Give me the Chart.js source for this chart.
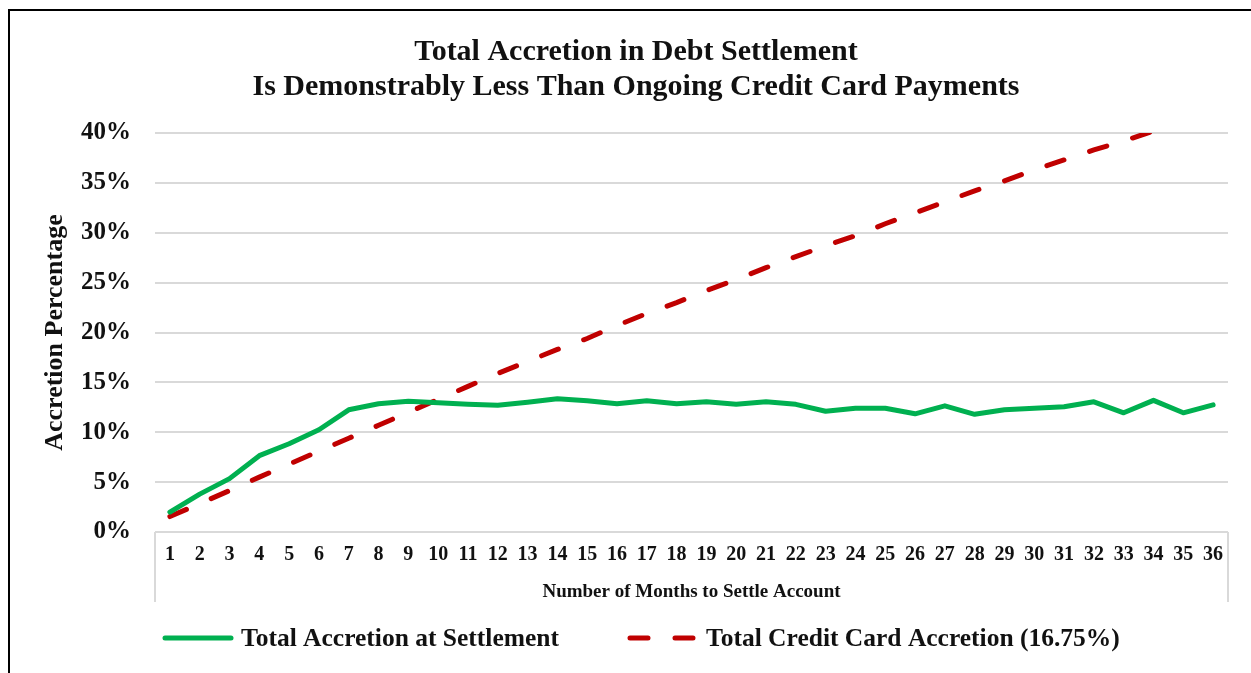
<!DOCTYPE html>
<html>
<head>
<meta charset="utf-8">
<title>Total Accretion in Debt Settlement</title>
<script src="https://cdn.jsdelivr.net/npm/chart.js@4.4.0/dist/chart.umd.min.js"></script>
<style>
  html, body { margin: 0; padding: 0; background: #fff; }
  #wrap { position: relative; width: 1251px; height: 673px; overflow: hidden; }
  #frame {
    position: absolute; left: 8px; top: 9px; width: 1300px; height: 700px;
    border-left: 2px solid #000; border-top: 2px solid #000;
    pointer-events: none;
  }
  canvas { position: absolute; left: 0; top: 0; }
</style>
</head>
<body>
<div id="wrap">
  <canvas id="chart" width="1251" height="673"></canvas>
  <div id="frame"></div>
</div>
<script>
// months to settle (x categories)
const months = ['1','2','3','4','5','6','7','8','9','10','11','12','13','14','15','16','17','18',
  '19','20','21','22','23','24','25','26','27','28','29','30','31','32','33','34','35','36'];

// % accretion
const settlementAccretion = [2.0, 3.8, 5.35, 7.65, 8.85, 10.25, 12.25, 12.85, 13.1, 12.95, 12.8, 12.7,
  13.0, 13.35, 13.15, 12.85, 13.15, 12.85, 13.05, 12.8, 13.05, 12.8, 12.1, 12.4,
  12.4, 11.85, 12.65, 11.8, 12.25, 12.4, 12.55, 13.05, 11.95, 13.2, 11.95, 12.75];

const creditCardAccretion = [1.55, 2.85, 4.15, 5.5, 6.8, 8.1, 9.4, 10.7, 12.0, 13.3, 14.6, 15.9,
  17.1, 18.3, 19.4, 20.7, 21.9, 23.0, 24.2, 25.3, 26.5, 27.6, 28.7, 29.7,
  30.9, 32.0, 33.1, 34.2, 35.2, 36.3, 37.3, 38.3, 39.2, 40.2, 41.1, 42.0];

const seriesNames = ['Total Accretion at Settlement', 'Total Credit Card Accretion (16.75%)'];
const titleLines = ['Total Accretion in Debt Settlement', 'Is Demonstrably Less Than Ongoing Credit Card Payments'];

const FONT = "'Liberation Serif', 'Times New Roman', serif";
const INK = '#111';
const GRID = '#d9d9d9';

// gray box around the category axis area (Excel style)
const axisBox = {
  id: 'axisBox',
  afterDraw(chart) {
    const { ctx, chartArea } = chart;
    const x = chart.scales.x;
    ctx.save();
    ctx.strokeStyle = GRID;
    ctx.lineWidth = 2;
    ctx.beginPath();
    ctx.moveTo(chartArea.left, chartArea.bottom);
    ctx.lineTo(chartArea.left, x.bottom - 3);
    ctx.moveTo(chartArea.right, chartArea.bottom);
    ctx.lineTo(chartArea.right, x.bottom - 3);
    ctx.stroke();
    ctx.restore();
  }
};

// legend drawn under the axis, line samples use the dataset styles
const lineLegend = {
  id: 'lineLegend',
  afterDraw(chart, args, opts) {
    const { ctx } = chart;
    ctx.save();
    ctx.font = 'bold ' + opts.size + 'px ' + FONT;
    ctx.textBaseline = 'middle';
    ctx.fillStyle = INK;
    chart.data.datasets.forEach((ds, i) => {
      const x0 = opts.starts[i];
      ctx.strokeStyle = ds.borderColor;
      ctx.lineWidth = ds.borderWidth;
      ctx.lineCap = 'round';
      ctx.setLineDash(ds.borderDash || []);
      ctx.beginPath();
      ctx.moveTo(x0, opts.y);
      ctx.lineTo(x0 + opts.sample, opts.y);
      ctx.stroke();
      ctx.setLineDash([]);
      ctx.fillText(ds.label, x0 + opts.sample + opts.gap, opts.y + 1);
    });
    ctx.restore();
  }
};

new Chart(document.getElementById('chart'), {
  type: 'line',
  data: {
    labels: months,
    datasets: [
      {
        label: seriesNames[0],
        data: settlementAccretion,
        borderColor: '#00b050',
        borderWidth: 5,
        borderJoinStyle: 'round',
        borderCapStyle: 'round',
        pointRadius: 0,
        tension: 0
      },
      {
        label: seriesNames[1],
        data: creditCardAccretion,
        borderColor: '#c00000',
        borderWidth: 5,
        borderDash: [18, 27],
        borderCapStyle: 'round',
        pointRadius: 0,
        tension: 0
      }
    ]
  },
  options: {
    responsive: false,
    animation: false,
    devicePixelRatio: 1,
    layout: { padding: { left: 44, right: 23, top: 0, bottom: 68 } },
    plugins: {
      legend: { display: false },
      tooltip: { enabled: false },
      title: {
        display: true,
        text: titleLines,
        color: INK,
        font: { family: FONT, size: 30, weight: 'bold', lineHeight: 1.15 },
        padding: { top: 35, bottom: 29 }
      },
      lineLegend: { starts: [165, 630], y: 638, sample: 66, gap: 10, size: 25.5 }
    },
    scales: {
      x: {
        offset: true,
        grid: { display: false, drawTicks: false },
        border: { display: false },
        ticks: {
          color: INK,
          autoSkip: false,
          maxRotation: 0,
          padding: 11,
          font: { family: FONT, size: 20, weight: 'bold' }
        },
        title: {
          display: true,
          text: 'Number of Months to Settle Account',
          color: INK,
          font: { family: FONT, size: 19, weight: 'bold' },
          padding: { top: 0, bottom: 2 }
        },
        afterFit(scale) { scale.height = 73; }
      },
      y: {
        min: 0,
        max: 40,
        grid: { color: GRID, lineWidth: 2, drawTicks: false },
        border: { display: false },
        ticks: {
          stepSize: 5,
          color: INK,
          padding: 24,
          font: { family: FONT, size: 25, weight: 'bold' },
          callback: v => v + '%'
        },
        title: {
          display: true,
          text: 'Accretion Percentage',
          color: INK,
          font: { family: FONT, size: 26, weight: 'bold', lineHeight: 0.85 },
          padding: { top: 0, bottom: 0 }
        },
        afterFit(scale) { scale.width = 111; }
      }
    }
  },
  plugins: [axisBox, lineLegend]
});
</script>
</body>
</html>
